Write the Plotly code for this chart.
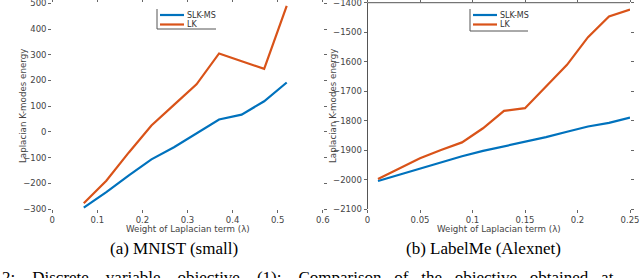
import plotly.graph_objects as go

# ---- data: MNIST (small) ----
mnist_lambda = [0.07, 0.12, 0.17, 0.22, 0.27, 0.32, 0.37, 0.42, 0.47, 0.52]
mnist_slk = [-295, -234, -169, -107, -60, -5, 48, 67, 119, 192]
mnist_lk = [-278, -190, -80, 25, 105, 185, 305, 275, 245, 490]

# ---- data: LabelMe (Alexnet) ----
labelme_lambda = [0.01, 0.03, 0.05, 0.07, 0.09, 0.11, 0.13, 0.15, 0.17, 0.19, 0.21, 0.23, 0.25]
labelme_slk = [-2005, -1984, -1963, -1942, -1921, -1903, -1888, -1872, -1856, -1838, -1820, -1808, -1790]
labelme_lk = [-1998, -1962, -1928, -1900, -1874, -1826, -1767, -1758, -1685, -1611, -1517, -1447, -1423]

series_names = ["SLK-MS", "LK"]
colors = ["#0072BD", "#D95319"]
x_title = "Weight of Laplacian term (λ)"
y_title = "Laplacian K-modes energy"
captions = ["(a) MNIST (small)", "(b) LabelMe (Alexnet)"]
footer_a = ["2:", "Discrete", "variable", "objective", "(1):", "Comparison"]
footer_b = ["of", "the", "objective", "obtained", "at"]

W, H = 640, 278


def px(x):
    return x / W


def py(y):
    return (H - y) / H


fig = go.Figure()
for name, ys, c in zip(series_names, [mnist_slk, mnist_lk], colors):
    fig.add_trace(go.Scatter(x=mnist_lambda, y=ys, mode="lines", name=name,
                             line=dict(color=c, width=2.2), xaxis="x", yaxis="y"))
for name, ys, c in zip(series_names, [labelme_slk, labelme_lk], colors):
    fig.add_trace(go.Scatter(x=labelme_lambda, y=ys, mode="lines", name=name,
                             line=dict(color=c, width=2.2), xaxis="x2", yaxis="y2"))

tickfont = dict(family="DejaVu Sans", size=8.5, color="#444444")
titlefont = dict(family="DejaVu Sans", size=8.7, color="#444444")
common = dict(showgrid=False, zeroline=False, ticks="outside", ticklen=3,
              tickcolor="#666666", tickfont=tickfont, automargin=False,
              mirror="ticks", showline=False, ticklabeloverflow="allow")

fig.update_layout(
    width=W, height=H,
    margin=dict(l=0, r=0, t=0, b=0),
    paper_bgcolor="white", plot_bgcolor="white",
    showlegend=False,
    xaxis=dict(domain=[px(52.2), px(322.8)], range=[0, 0.6], tickvals=[0, 0.1, 0.2, 0.3, 0.4, 0.5, 0.6],
               ticktext=["0", "0.1", "0.2", "0.3", "0.4", "0.5", "0.6"], anchor="y", **common),
    yaxis=dict(domain=[py(209), py(3.3)], range=[-300, 500], dtick=100, anchor="x", **common),
    xaxis2=dict(domain=[px(367.5), px(630)], range=[0, 0.25], tickvals=[0, 0.05, 0.1, 0.15, 0.2, 0.25],
                ticktext=["0", "0.05", "0.1", "0.15", "0.2", "0.25"], anchor="y2", **common),
    yaxis2=dict(domain=[py(209), py(2.7)], range=[-2100, -1400], dtick=100, anchor="x2", **common),
)

# right panel: top and left frame lines
fig.add_shape(type="line", xref="x2 domain", yref="y2 domain", x0=0, x1=1, y0=1, y1=1,
              line=dict(color="#555555", width=1))
fig.add_shape(type="line", xref="x2 domain", yref="y2 domain", x0=0, x1=0, y0=0, y1=1,
              line=dict(color="#555555", width=1))

# axis titles
for xc in (187.5, 499):
    fig.add_annotation(text=x_title, x=px(xc), y=py(228.5), xref="paper", yref="paper",
                       showarrow=False, xanchor="center", yanchor="middle", font=titlefont)
for xc in (23, 333):
    fig.add_annotation(text=y_title, x=px(xc), y=py(106), xref="paper", yref="paper",
                       showarrow=False, xanchor="center", yanchor="middle", textangle=-90,
                       font=titlefont)

# legends (drawn compactly like the original)
legfont = dict(family="DejaVu Sans", size=8, color="#333333")
for (lx, ly, lw, lh) in [(157, 9, 59, 20), (470, 9, 58, 22)]:
    fig.add_shape(type="line", xref="paper", yref="paper", x0=px(lx), x1=px(lx), y0=py(ly), y1=py(ly + lh),
                  line=dict(color="#555555", width=1))
    fig.add_shape(type="line", xref="paper", yref="paper", x0=px(lx), x1=px(lx + lw), y0=py(ly + lh),
                  y1=py(ly + lh), line=dict(color="#555555", width=1))
    for i, (name, c) in enumerate(zip(series_names, colors)):
        yy = ly + 6 + i * 9.5
        fig.add_shape(type="line", xref="paper", yref="paper", x0=px(lx + 3), x1=px(lx + 27),
                      y0=py(yy), y1=py(yy), line=dict(color=c, width=2.2))
        fig.add_annotation(text=name, x=px(lx + 29), y=py(yy), xref="paper", yref="paper",
                           showarrow=False, xanchor="left", yanchor="middle", font=legfont,
                           borderpad=0)

capfont = dict(family="Liberation Serif", size=17, color="black")
fig.add_annotation(text=captions[0], x=px(173.5), y=py(248), xref="paper", yref="paper",
                   showarrow=False, xanchor="center", yanchor="middle", font=capfont)
fig.add_annotation(text=captions[1], x=px(483), y=py(248), xref="paper", yref="paper",
                   showarrow=False, xanchor="center", yanchor="middle", font=capfont)
# justified footer line (only its top part is visible, as in the source)
footer = " &nbsp;&nbsp;&nbsp;".join(footer_a) + " &nbsp;&nbsp;" + " &nbsp;&nbsp;".join(footer_b)
fig.add_annotation(text=footer, x=px(0), y=py(266), xref="paper", yref="paper", showarrow=False,
                   xanchor="left", yanchor="top", font=capfont)

fig.write_html("out.html", config={"displayModeBar": False},
               post_script="document.body.style.margin='0px';")
